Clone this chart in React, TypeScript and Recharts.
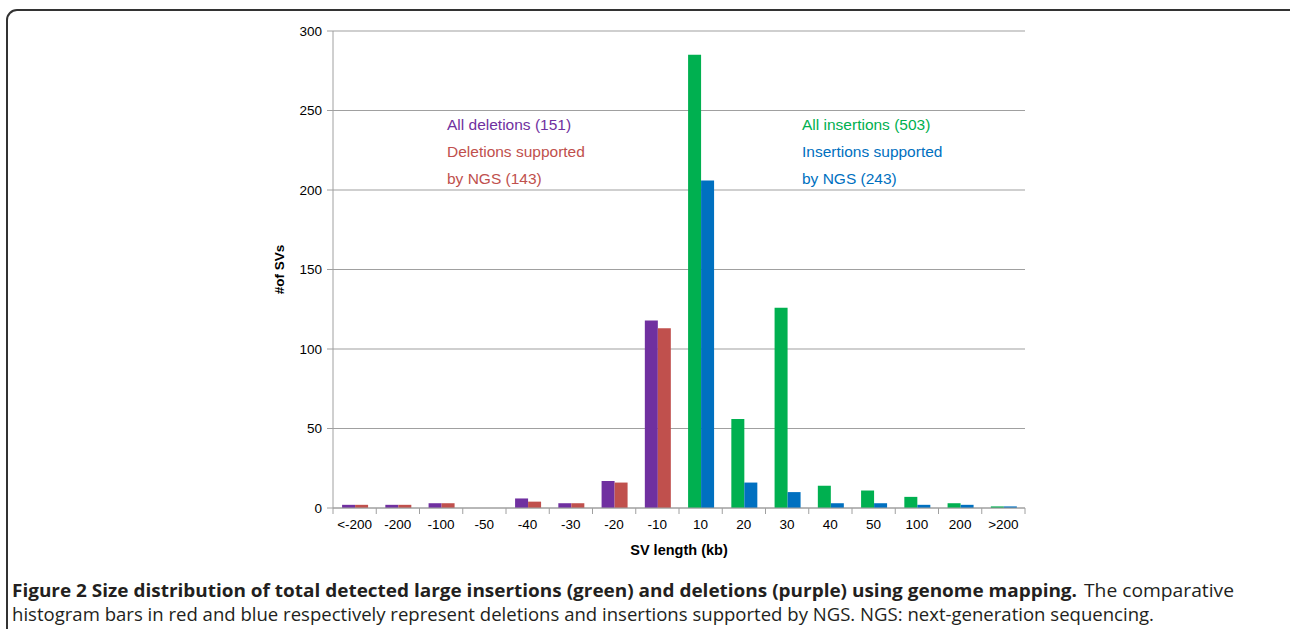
import React from 'react';
import { BarChart, Bar, XAxis, YAxis, CartesianGrid, Customized, Label } from 'recharts';

const categories = ['<-200', '-200', '-100', '-50', '-40', '-30', '-20', '-10', '10', '20', '30', '40', '50', '100', '200', '>200'];
const deletionCategories = categories.slice(0, 8);
const insertionCategories = categories.slice(8);
const allDeletions = [2, 2, 3, 0, 6, 3, 17, 118];
const ngsDeletions = [2, 2, 3, 0, 4, 3, 16, 113];
const allInsertions = [285, 56, 126, 14, 11, 7, 3, 1];
const ngsInsertions = [206, 16, 10, 3, 3, 2, 2, 1];
const yTicks = [0, 50, 100, 150, 200, 250, 300];

const captionBold = 'Figure 2 Size distribution of total detected large insertions (green) and deletions (purple) using genome mapping.';
const captionLine1Rest = 'The comparative';
const captionLine2 = 'histogram bars in red and blue respectively represent deletions and insertions supported by NGS. NGS: next-generation sequencing.';

const COLORS = { purple: '#7030A0', red: '#C0504D', green: '#00B050', blue: '#0070C0' };

const data = categories.map((c) => {
  const di = deletionCategories.indexOf(c);
  const ii = insertionCategories.indexOf(c);
  return {
    name: c,
    allDel: di >= 0 ? allDeletions[di] : 0,
    ngsDel: di >= 0 ? ngsDeletions[di] : 0,
    allIns: ii >= 0 ? allInsertions[ii] : 0,
    ngsIns: ii >= 0 ? ngsInsertions[ii] : 0,
  };
});

const W = 1290;
const H = 560;
const M = { top: 31, right: 265, bottom: 22, left: 273 };
const Y_W = 60;
const X_H = 30;
const plotW = W - M.left - Y_W - M.right;
const halfBand = plotW / categories.length / 2;
const FONT = '"Liberation Sans", Arial, sans-serif';
const CAP_FONT = '"Open Sans", "Noto Sans", sans-serif';
const AXIS_GRAY = '#a0a0a0';

const XTick = (props: any) => {
  const { x, payload, index } = props;
  const axisY = H - M.bottom - X_H;
  return (
    <g>
      <line x1={x - halfBand} x2={x - halfBand} y1={axisY} y2={axisY + 6} stroke={AXIS_GRAY} />
      {index === categories.length - 1 && (
        <line x1={x + halfBand} x2={x + halfBand} y1={axisY} y2={axisY + 6} stroke={AXIS_GRAY} />
      )}
      <text x={x} y={axisY + 21} textAnchor="middle" fontFamily={FONT} fontSize={13.5} fill="#000">
        {payload.value}
      </text>
    </g>
  );
};

const Annotations = () => {
  const rows = [130, 157, 184];
  return (
    <g fontFamily={FONT} fontSize={15.5}>
      <text x={447} y={rows[0]} fill={COLORS.purple}>All deletions (151)</text>
      <text x={447} y={rows[1]} fill={COLORS.red}>Deletions supported</text>
      <text x={447} y={rows[2]} fill={COLORS.red}>by NGS (143)</text>
      <text x={802} y={rows[0]} fill={COLORS.green}>All insertions (503)</text>
      <text x={802} y={rows[1]} fill={COLORS.blue}>Insertions supported</text>
      <text x={802} y={rows[2]} fill={COLORS.blue}>by NGS (243)</text>
    </g>
  );
};

export default function App() {
  return (
    <div style={{ position: 'absolute', left: 0, top: 0, width: W, height: 629, overflow: 'hidden', background: '#fff' }}>
      <div
        style={{
          position: 'absolute',
          left: 6,
          top: 9,
          width: 1300,
          height: 700,
          border: '2px solid #333',
          borderRadius: 11,
          boxSizing: 'border-box',
        }}
      />
      <div style={{ position: 'absolute', left: 0, top: 0 }}>
        <BarChart width={W} height={H} data={data} margin={M} barCategoryGap="21%" barGap={0}>
          <CartesianGrid vertical={false} stroke={AXIS_GRAY} strokeWidth={1.2} />
          <XAxis
            dataKey="name"
            height={X_H}
            axisLine={{ stroke: AXIS_GRAY }}
            tickLine={false}
            tick={<XTick />}
            interval={0}
          >
            <Label
              content={(p: any) => {
                const vb = p.viewBox;
                return (
                  <text x={vb.x + vb.width / 2} y={vb.y + 47} textAnchor="middle" fontFamily={FONT} fontWeight="bold" fontSize={14.5} fill="#000">
                    SV length (kb)
                  </text>
                );
              }}
            />
          </XAxis>
          <YAxis
            width={Y_W}
            domain={[0, 300]}
            ticks={yTicks}
            axisLine={{ stroke: AXIS_GRAY }}
            tickLine={{ stroke: AXIS_GRAY }}
            tickSize={6}
            tickMargin={5}
            tick={{ fontFamily: FONT, fontSize: 13.5, fill: '#000' }}
          >
            <Label
              content={(p: any) => {
                const vb = p.viewBox;
                const cx = vb.x + 6;
                const cy = vb.y + vb.height / 2;
                return (
                  <text x={cx} y={cy} transform={`rotate(-90, ${cx}, ${cy})`} textAnchor="middle" dominantBaseline="central" fontFamily={FONT} fontWeight="bold" fontSize={13.5} fill="#000">
                    #of SVs
                  </text>
                );
              }}
            />
          </YAxis>
          <Bar dataKey="allDel" stackId="all" fill={COLORS.purple} isAnimationActive={false} />
          <Bar dataKey="allIns" stackId="all" fill={COLORS.green} isAnimationActive={false} />
          <Bar dataKey="ngsDel" stackId="ngs" fill={COLORS.red} isAnimationActive={false} />
          <Bar dataKey="ngsIns" stackId="ngs" fill={COLORS.blue} isAnimationActive={false} />
          <Customized component={Annotations} />
        </BarChart>
      </div>
      <svg style={{ position: 'absolute', left: 0, top: 560 }} width={W} height={69}>
        <g fontFamily={CAP_FONT} fontSize={18} fill="#231f20">
          <text x={12} y={37} fontWeight="bold" textLength={1065} lengthAdjust="spacingAndGlyphs">
            {captionBold}
          </text>
          <text x={1084} y={37} textLength={150} lengthAdjust="spacingAndGlyphs">
            {captionLine1Rest}
          </text>
          <text x={12} y={61} textLength={1142} lengthAdjust="spacingAndGlyphs">
            {captionLine2}
          </text>
        </g>
      </svg>
    </div>
  );
}
